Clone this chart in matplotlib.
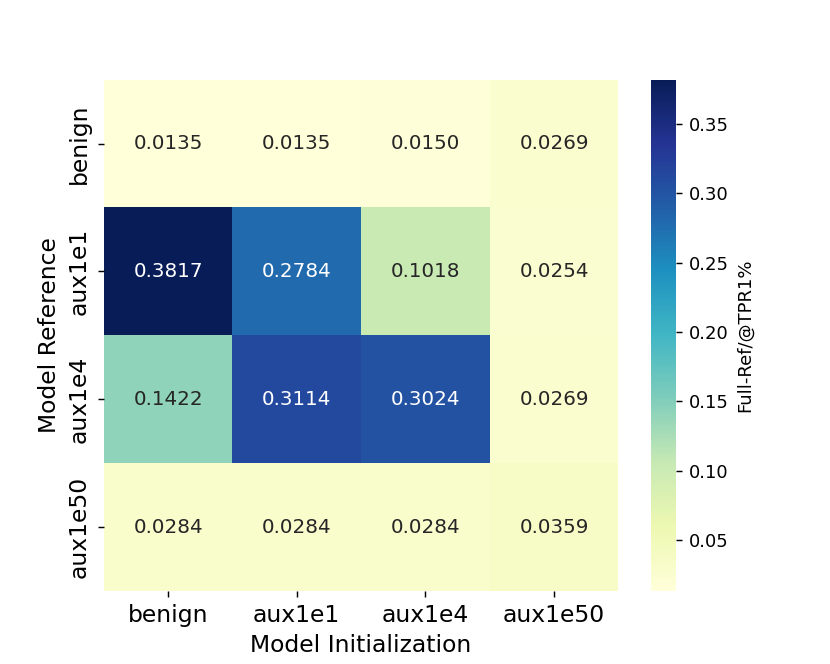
import numpy as np
import matplotlib
matplotlib.use('Agg')
import matplotlib.pyplot as plt
import seaborn as sns

row_labels = ['benign', 'aux1e1', 'aux1e4', 'aux1e50']
col_labels = ['benign', 'aux1e1', 'aux1e4', 'aux1e50']
scores = np.array([
    [0.0135, 0.0135, 0.0150, 0.0269],
    [0.3817, 0.2784, 0.1018, 0.0254],
    [0.1422, 0.3114, 0.3024, 0.0269],
    [0.0284, 0.0284, 0.0284, 0.0359],
])

fig = plt.figure(figsize=(6.385, 5.108), dpi=130)
ax = sns.heatmap(scores, cmap='YlGnBu', annot=True, fmt='.4f',
                 annot_kws={'fontsize': 11},
                 xticklabels=col_labels, yticklabels=row_labels,
                 cbar_kws={'label': 'Full-Ref/@TPR1%'})
ax.tick_params(axis='both', labelsize=13)
ax.set_xlabel('Model Initialization', fontsize=13)
ax.set_ylabel('Model Reference', fontsize=13)
cb = ax.collections[0].colorbar
cb.ax.tick_params(labelsize=10)
cb.ax.yaxis.label.set_size(10)
plt.savefig('out.png', dpi=130)
